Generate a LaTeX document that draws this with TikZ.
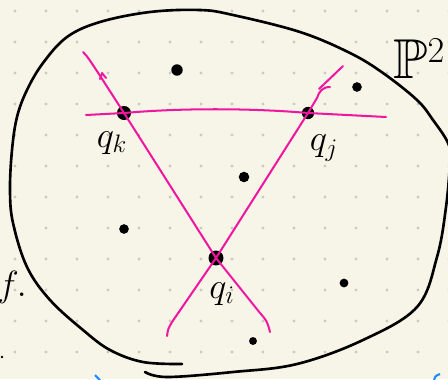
\documentclass[tikz,border=0pt]{standalone}
\usepackage{amsmath}
\usepackage{amssymb}
\usepackage{tikz}
\usepackage{xcolor}

\definecolor{paper}{RGB}{247,245,232}
\definecolor{griddot}{RGB}{202,202,196}
\definecolor{pinkpen}{RGB}{240,22,160}
\definecolor{bluepen}{RGB}{30,140,255}

\tikzset{
  blob/.style={circle,fill=black,inner sep=0pt,minimum size=#1},
  pinkline/.style={line width=1.15pt,pinkpen,line cap=round,line join=round},
  outline/.style={line width=1.5pt,black,line cap=round},
  qlabel/.style={font=\huge}
}

\begin{document}
\begin{tikzpicture}[x=0.02cm,y=-0.02cm]
\fill[paper] (0,0) rectangle (448,379);
\useasboundingbox (0,0) rectangle (448,379);
\clip (0,0) rectangle (448,379);
% dotted paper
\foreach \i in {0,...,14}
  \foreach \j in {0,...,11}
    \fill[griddot] ({15+31*\i},{11+31*\j}) circle (1.6);

% the plane
\draw[outline] plot[smooth,tension=0.6] coordinates {(145,372) (167,377) (233,372) (297,364) (363,340) (417,307) (437,257) (446,207) (450,160) (448,143) (433,120) (417,100) (383,73) (350,53) (300,32) (233,15) (200,10) (150,12) (100,22) (67,37) (43,63) (27,90) (17,117) (12,150) (10,190) (13,223) (27,267) (50,300) (83,330) (110,350) (143,362) (182,364)};

% points
\node[blob=8pt] (qk) at (124,113) {};
\node[blob=7pt] (qj) at (308,113) {};
\node[blob=8.5pt] (qi) at (216,258) {};
\node[blob=6.5pt] (p1) at (177,70) {};
\node[blob=5.5pt] (p2) at (357,87) {};
\node[blob=6pt] (p3) at (244,177) {};
\node[blob=5.5pt] (p4) at (124,229) {};
\node[blob=5pt] (p5) at (344,283) {};
\node[blob=4.5pt] (p6) at (253,341) {};

% ends of the lines
\coordinate (la1) at (83,52);
\coordinate (la2) at (260,313);
\coordinate (la3) at (270,332);
\coordinate (lb1) at (343,66);
\coordinate (lb2) at (319,89);
\coordinate (lb3) at (330,87);
\coordinate (lb4) at (172,322);
\coordinate (lb5) at (167,336);
\coordinate (lc1) at (86,115);
\coordinate (lc2) at (386,117);

\draw[pinkline] (la1) .. controls (88,57) .. (qk.center) -- (qi.center) -- (la2) .. controls (267,321) .. (la3);
\draw[pinkline] (100,79) -- (102,73) -- (106,78);
\draw[pinkline] (lb1) -- (lb2);
\draw[pinkline] (lb3) .. controls (322,87) and (319,92) .. (317,98) -- (qj.center) -- (qi.center) -- (lb4) .. controls (168,329) .. (lb5);
\draw[pinkline] (lc1) -- (qk.center) .. controls (180,108) and (250,108) .. (qj.center) -- (lc2);

\foreach \q in {qk,qj,qi}
  \fill[pinkpen] (\q) circle (1.1);

% labels
\node[qlabel] (lk) at (112,143) {$q_k$};
\node[qlabel] (lj) at (324,148) {$q_j$};
\node[qlabel] (li) at (222,294) {$q_i$};
\node[anchor=base west,inner sep=0pt,font=\fontsize{32}{32}\selectfont] (proj) at (393,78) {$\mathbb{P}^{2}$};
\node[qlabel,anchor=base] (fl) at (12,296) {$f.$};

% stray marks
\fill (2,357) circle (1.3);
\draw[bluepen,line width=1.2pt] (95,375) -- (100,380);
\draw[bluepen,line width=1.2pt] (434,381) .. controls (435,376) .. (440,374);
\end{tikzpicture}
\end{document}
